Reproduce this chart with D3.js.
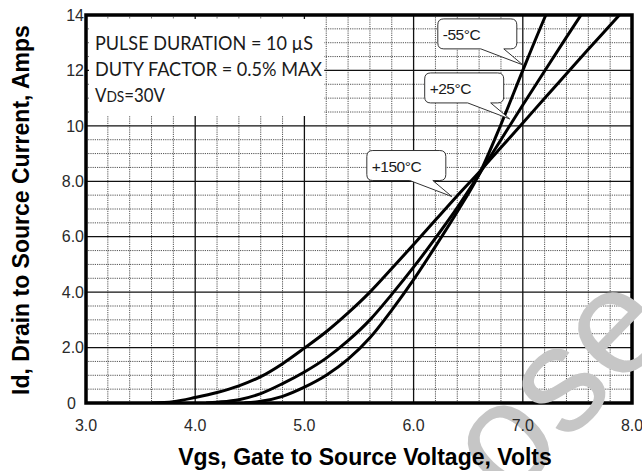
<!DOCTYPE html>
<html><head><meta charset="utf-8">
<script src="https://cdn.jsdelivr.net/npm/d3@7"></script>
<style>html,body{margin:0;padding:0;background:#fff;} svg{display:block}</style>
</head><body>
<svg id="c" width="642" height="471"></svg>
<script>
// ---------- data ----------
const xTickValues = [3, 4, 5, 6, 7, 8];
const xTickLabels = ["3.0", "4.0", "5.0", "6.0", "7.0", "8.0"];
const yTickValues = [0, 2, 4, 6, 8, 10, 12, 14];
const yTickLabels = ["0", "2.0", "4.0", "6.0", "8.0", "10", "12", "14"];

const vgs150 = [3.6, 3.8, 4.0, 4.2, 4.4, 4.6, 4.8, 5.0, 5.2, 5.4, 5.6, 5.8, 6.0, 6.2, 6.4, 6.6, 6.8, 7.0, 7.2, 7.4, 7.6, 7.8, 8.0];
const id150  = [0, 0.05, 0.2, 0.38, 0.62, 0.95, 1.42, 1.98, 2.57, 3.25, 4.0, 4.85, 5.72, 6.6, 7.48, 8.33, 9.22, 10.1, 11.0, 11.88, 12.76, 13.63, 14.5];

const vgs25 = [4.1, 4.2, 4.4, 4.6, 4.8, 5.0, 5.2, 5.4, 5.6, 5.8, 6.0, 6.2, 6.4, 6.6, 6.8, 7.0, 7.2, 7.4, 7.6];
const id25  = [0, 0.03, 0.12, 0.34, 0.7, 1.12, 1.62, 2.25, 3.0, 3.92, 4.9, 5.95, 7.05, 8.25, 9.5, 10.75, 11.98, 13.2, 14.4];

const vgsM55 = [4.45, 4.6, 4.8, 5.0, 5.2, 5.4, 5.6, 5.8, 6.0, 6.2, 6.4, 6.6, 6.8, 7.0, 7.2, 7.3];
const idM55  = [0, 0.06, 0.24, 0.57, 1.0, 1.58, 2.35, 3.35, 4.45, 5.65, 6.9, 8.25, 10.05, 12.0, 13.9, 14.8];

const seriesLabels = ["+150\u00B0C", "+25\u00B0C", "-55\u00B0C"];
const calloutTipVgs = [6.35, 6.88, 7.0];
const calloutTipId  = [7.45, 10.25, 12.2];

const noteLine1 = "PULSE DURATION = 10 \u00B5S";
const noteLine2 = "DUTY FACTOR = 0.5% MAX";
const noteVds = ["V", "DS", "=30V"];

const xTitle = "Vgs, Gate to Source Voltage, Volts";
const yTitle = "Id, Drain to Source Current, Amps";
const watermark = "ose";

// ---------- layout ----------
const plot = {l: 86, r: 632, t: 15, b: 403};
const svg = d3.select("#c");
const x = d3.scaleLinear().domain([3, 8]).range([plot.l, plot.r]);
const y = d3.scaleLinear().domain([0, 14]).range([plot.b, plot.t]);

svg.append("rect").attr("width", 642).attr("height", 471).attr("fill", "#fff");

const isInt = v => Math.abs(v - Math.round(v)) < 1e-6;
const minorX = d3.range(3, 8.0001, 0.2).filter(v => !isInt(v));
const minorY = d3.range(0, 14.0001, 0.5).filter(v => !(isInt(v) && Math.round(v) % 2 === 0));
const majorX = d3.range(3, 8.0001, 1);
const majorY = d3.range(0, 14.0001, 2);

const grid = svg.append("g");
grid.selectAll(".mx").data(minorX).join("line")
  .attr("x1", d => x(d)).attr("x2", d => x(d)).attr("y1", plot.t).attr("y2", plot.b)
  .attr("stroke", "#555").attr("stroke-width", 1).attr("stroke-dasharray", "1.2,1");
grid.selectAll(".my").data(minorY).join("line")
  .attr("y1", d => y(d)).attr("y2", d => y(d)).attr("x1", plot.l).attr("x2", plot.r)
  .attr("stroke", "#555").attr("stroke-width", 1).attr("stroke-dasharray", "1.2,1");
grid.selectAll(".Mx").data(majorX).join("line")
  .attr("x1", d => x(d)).attr("x2", d => x(d)).attr("y1", plot.t).attr("y2", plot.b)
  .attr("stroke", "#111").attr("stroke-width", 1.3);
grid.selectAll(".My").data(majorY).join("line")
  .attr("y1", d => y(d)).attr("y2", d => y(d)).attr("x1", plot.l).attr("x2", plot.r)
  .attr("stroke", "#111").attr("stroke-width", 1.3);

// white note box
svg.append("rect")
  .attr("x", plot.l + 3).attr("y", plot.t + 4)
  .attr("width", x(5.2) - 2 - (plot.l + 3)).attr("height", y(10.5) + 4 - (plot.t + 4))
  .attr("fill", "#fff");

// curves
svg.append("clipPath").attr("id", "pc").append("rect")
  .attr("x", plot.l).attr("y", plot.t).attr("width", plot.r - plot.l).attr("height", plot.b - plot.t);
const line = d3.line().x(d => x(d[0])).y(d => y(d[1])).curve(d3.curveMonotoneX);
const series = [
  d3.zip(vgs150, id150),
  d3.zip(vgs25, id25),
  d3.zip(vgsM55, idM55)
];
svg.append("g").attr("clip-path", "url(#pc)")
  .selectAll("path").data(series).join("path")
  .attr("d", line).attr("fill", "none").attr("stroke", "#000").attr("stroke-width", 3)
  .attr("stroke-linejoin", "round");

// callouts
const cw = 79, ch = 30, r = 6;
const calloutG = svg.append("g");
seriesLabels.forEach((lab, i) => {
  const tx = x(calloutTipVgs[i]), ty = y(calloutTipId[i]);
  const bx = tx - 85, by = ty - 46;
  const b1 = tx - 42, b2 = tx - 19;
  const p = `M${bx + r},${by} H${bx + cw - r} Q${bx + cw},${by} ${bx + cw},${by + r} V${by + ch - r} Q${bx + cw},${by + ch} ${bx + cw - r},${by + ch} H${b2} L${tx},${ty} L${b1},${by + ch} H${bx + r} Q${bx},${by + ch} ${bx},${by + ch - r} V${by + r} Q${bx},${by} ${bx + r},${by} Z`;
  calloutG.append("path").attr("d", p).attr("fill", "#fff").attr("stroke", "#333").attr("stroke-width", 1);
  calloutG.append("text").attr("x", bx + 5).attr("y", by + 21)
    .attr("font-family", "'Liberation Sans', Arial, sans-serif").attr("font-size", 15.5)
    .attr("letter-spacing", -0.5).attr("fill", "#1a1a1a").text(lab);
});

// border
svg.append("rect").attr("x", plot.l).attr("y", plot.t)
  .attr("width", plot.r - plot.l).attr("height", plot.b - plot.t)
  .attr("fill", "none").attr("stroke", "#000").attr("stroke-width", 3.5);

// watermark
svg.append("text").attr("transform", "translate(508,504) rotate(-46)")
  .attr("font-family", "'Liberation Sans', Arial, sans-serif").attr("font-size", 150)
  .attr("fill", "#c6c6c6").text(watermark);

// tick labels
const tickFont = "'Liberation Sans', Arial, sans-serif";
svg.append("g").selectAll("text").data(xTickValues).join("text")
  .attr("x", d => x(d)).attr("y", 431).attr("text-anchor", "middle")
  .attr("font-family", tickFont).attr("font-size", 16).attr("fill", "#2a2a2a")
  .text((d, i) => xTickLabels[i]);
svg.append("g").selectAll("text").data(yTickValues).join("text")
  .attr("x", d => d === 0 ? plot.l - 10 : plot.l - 2).attr("y", d => y(d)).attr("dy", "0.36em")
  .attr("text-anchor", "end")
  .attr("font-family", tickFont).attr("font-size", 16).attr("fill", "#2a2a2a")
  .text((d, i) => yTickLabels[i]);

// titles
svg.append("text").attr("x", 365).attr("y", 465).attr("text-anchor", "middle")
  .attr("font-family", tickFont).attr("font-weight", "bold").attr("font-size", 23)
  .attr("fill", "#000").text(xTitle);
svg.append("text").attr("transform", "translate(29,210) rotate(-90)").attr("text-anchor", "middle")
  .attr("font-family", tickFont).attr("font-weight", "bold").attr("font-size", 23)
  .attr("fill", "#000").text(yTitle);

// note text
const noteFont = "Lato, 'Open Sans', sans-serif";
const ng = svg.append("g").attr("font-family", noteFont).attr("font-size", 18.5).attr("fill", "#1a1a1a");
ng.append("text").attr("x", 95).attr("y", 50).attr("textLength", 218).attr("lengthAdjust", "spacingAndGlyphs").text(noteLine1);
ng.append("text").attr("x", 95).attr("y", 76).attr("textLength", 227).attr("lengthAdjust", "spacingAndGlyphs").text(noteLine2);
const t3 = ng.append("text").attr("x", 95).attr("y", 102).attr("textLength", 70).attr("lengthAdjust", "spacingAndGlyphs");
t3.append("tspan").text(noteVds[0]);
t3.append("tspan").attr("font-size", 15).text(noteVds[1]);
t3.append("tspan").text(noteVds[2]);
</script>
</body></html>
